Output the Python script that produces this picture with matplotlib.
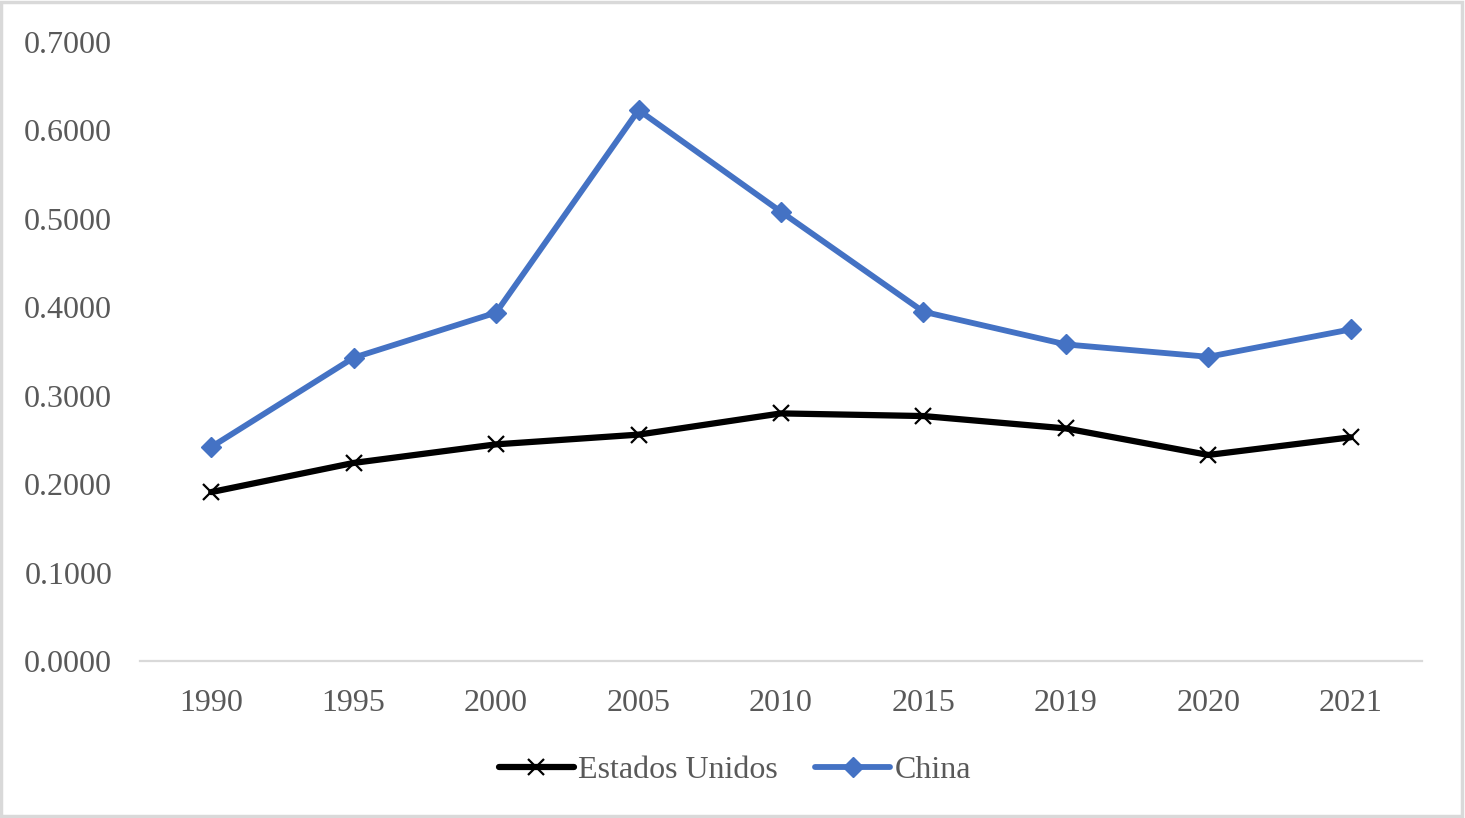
import matplotlib
matplotlib.use("Agg")
import matplotlib.pyplot as plt
from matplotlib.patches import Rectangle

years = ["1990", "1995", "2000", "2005", "2010", "2015", "2019", "2020", "2021"]
estados_unidos = [0.191, 0.224, 0.245, 0.256, 0.280, 0.277, 0.263, 0.233, 0.253]
china = [0.242, 0.343, 0.394, 0.623, 0.508, 0.395, 0.358, 0.344, 0.375]
yticks = [0.0, 0.1, 0.2, 0.3, 0.4, 0.5, 0.6, 0.7]

plt.rcParams['font.family'] = ['Liberation Serif', 'DejaVu Serif']
txt_color = '#595959'
fs = 23

fig = plt.figure(figsize=(14.65, 8.18), dpi=100)
ax = fig.add_axes([140/1465, 1-661/818, (1422-140)/1465, (661-42)/818])

x = list(range(len(years)))
ax.plot(x, estados_unidos, color='black', lw=4.5, marker='x', markersize=12,
        markeredgewidth=1.6, markeredgecolor='black', label='Estados Unidos',
        solid_joinstyle='round', solid_capstyle='round')
ax.plot(x, china, color='#4472C4', lw=4.2, marker='D', markersize=10,
        markeredgecolor='#4472C4', label='China',
        solid_joinstyle='round', solid_capstyle='round')

ax.set_xlim(-0.5, len(years) - 0.5)
ax.set_ylim(0, 0.7)
ax.set_yticks(yticks)
ax.set_yticklabels([f"{v:.4f}" for v in yticks])
ax.set_xticks(x)
ax.set_xticklabels(years)
ax.tick_params(axis='both', length=0, labelsize=fs, colors=txt_color)
ax.tick_params(axis='y', pad=20)
ax.tick_params(axis='x', pad=20)
for s in ['top', 'right', 'left']:
    ax.spines[s].set_visible(False)
ax.spines['bottom'].set_color('#d9d9d9')
ax.spines['bottom'].set_linewidth(1.6)

leg = fig.legend(loc='center', bbox_to_anchor=(0.5017, 1-770/818), ncol=2,
                 frameon=False, fontsize=fs, handlelength=2.35,
                 handletextpad=0.15, columnspacing=1.15)
for t in leg.get_texts():
    t.set_color(txt_color)

fig.patches.append(Rectangle((0.001, 0.002), 0.997, 0.995, transform=fig.transFigure,
                             fill=False, edgecolor='#d9d9d9', lw=2.5))

fig.savefig('out.png', dpi=100)
